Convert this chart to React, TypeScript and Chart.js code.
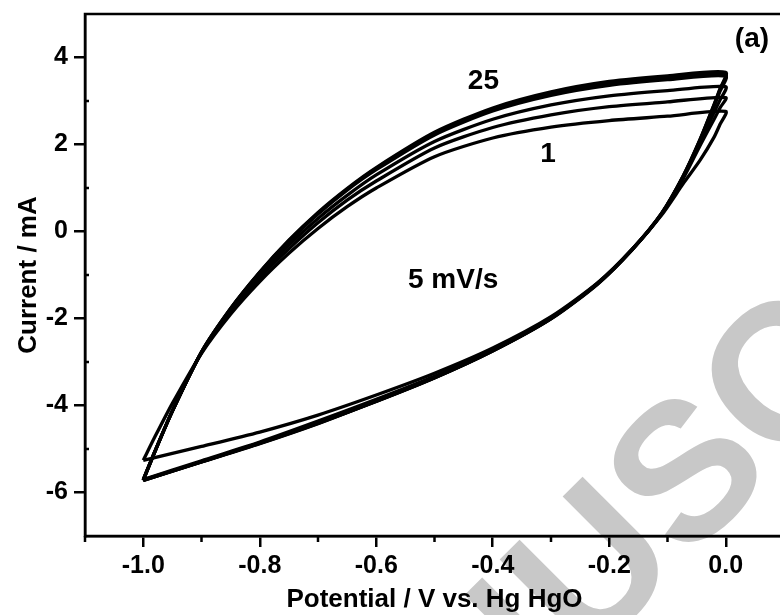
import React, { useEffect, useRef } from "react";
import { Chart, registerables } from "chart.js";

Chart.register(...registerables);

// ---- data ----
const CYCLE_NAMES = ["Cycle 1", "Cycle 5", "Cycle 10", "Cycle 15", "Cycle 20", "Cycle 25"];

// anodic (forward) sweep potentials, V
const X_UP = [-1.0, -0.98, -0.95, -0.9, -0.85, -0.8, -0.75, -0.7, -0.65, -0.6, -0.5, -0.4, -0.3, -0.2, -0.1, 0.0];
// cathodic (reverse) sweep potentials, V
const X_DN = [-0.01, -0.02, -0.044, -0.073, -0.11, -0.16, -0.22, -0.3, -0.4, -0.5, -0.6, -0.7, -0.8, -0.9, -1.0];

// currents, mA
const UP_C1 = [-5.26, -4.72, -3.95, -2.8, -1.9, -1.15, -0.5, 0.07, 0.57, 1.0, 1.72, 2.15, 2.4, 2.55, 2.65, 2.76];
const UP_C5 = [-5.7, -5.05, -4.12, -2.79, -1.85, -1.07, -0.4, 0.2, 0.72, 1.16, 1.92, 2.39, 2.68, 2.87, 2.98, 3.08];
const UP_C10 = [-5.71, -5.06, -4.13, -2.78, -1.82, -1.01, -0.31, 0.3, 0.83, 1.3, 2.07, 2.58, 2.91, 3.12, 3.24, 3.33];
const UP_C15 = [-5.72, -5.06, -4.13, -2.77, -1.78, -0.95, -0.23, 0.4, 0.95, 1.42, 2.22, 2.77, 3.13, 3.36, 3.49, 3.57];
const UP_C20 = [-5.72, -5.06, -4.13, -2.77, -1.77, -0.94, -0.21, 0.42, 0.97, 1.45, 2.26, 2.81, 3.18, 3.41, 3.54, 3.62];
const UP_C25 = [-5.72, -5.06, -4.13, -2.77, -1.77, -0.93, -0.2, 0.44, 0.99, 1.47, 2.28, 2.84, 3.21, 3.45, 3.58, 3.66];

const DN_C1 = [2.46, 2.17, 1.64, 1.1, 0.38, -0.4, -1.18, -1.96, -2.68, -3.26, -3.76, -4.22, -4.61, -4.94, -5.26];
const DN_C5 = [2.84, 2.58, 1.98, 1.22, 0.4, -0.4, -1.19, -1.98, -2.72, -3.33, -3.86, -4.36, -4.84, -5.27, -5.7];
const DN_C10 = [3.02, 2.74, 2.05, 1.25, 0.41, -0.41, -1.2, -2.0, -2.73, -3.35, -3.89, -4.39, -4.86, -5.29, -5.71];
const DN_C15 = [3.22, 2.88, 2.1, 1.27, 0.42, -0.4, -1.19, -1.99, -2.74, -3.36, -3.9, -4.4, -4.86, -5.29, -5.72];
const DN_C20 = [3.26, 2.91, 2.11, 1.27, 0.41, -0.41, -1.21, -2.01, -2.75, -3.37, -3.91, -4.41, -4.87, -5.3, -5.72];
const DN_C25 = [3.28, 2.92, 2.12, 1.28, 0.42, -0.4, -1.2, -2.0, -2.74, -3.36, -3.9, -4.42, -4.88, -5.3, -5.72];

const UP_ALL = [UP_C1, UP_C5, UP_C10, UP_C15, UP_C20, UP_C25];
const DN_ALL = [DN_C1, DN_C5, DN_C10, DN_C15, DN_C20, DN_C25];

// axes
const X_MIN = -1.1;
const X_MAX = 0.1;
const Y_MIN = -7;
const Y_MAX = 5;
const X_TICKS = [-1.0, -0.8, -0.6, -0.4, -0.2, 0.0];
const X_MINOR = [-1.1, -0.9, -0.7, -0.5, -0.3, -0.1, 0.1];
const Y_TICKS = [-6, -4, -2, 0, 2, 4];
const Y_MINOR = [-5, -3, -1, 1, 3];

const X_TITLE = "Potential / V vs. Hg HgO";
const Y_TITLE = "Current / mA";

// in-plot labels (data coordinates)
const LABEL_TEXT = ["25", "1", "5 mV/s", "(a)"];
const LABEL_X = [-0.416, -0.305, -0.468, 0.045];
const LABEL_Y = [3.45, 1.78, -1.13, 4.41];

const WATERMARK = "MANUSCRIPT";

const FONT = '"Liberation Sans", Arial, Helvetica, sans-serif';

const decorPlugin = {
  id: "decor",
  beforeDraw(chart: any) {
    const { ctx } = chart;
    ctx.save();
    ctx.fillStyle = "#ffffff";
    ctx.fillRect(0, 0, chart.width, chart.height);
    // watermark
    ctx.font = `bold 195px ${FONT}`;
    ctx.fillStyle = "#c8c8c8";
    ctx.translate(598, 575);
    ctx.rotate((-45 * Math.PI) / 180);
    const pre = ctx.measureText("MAN").width;
    const u = ctx.measureText("U").width;
    ctx.textBaseline = "middle";
    ctx.textAlign = "left";
    ctx.fillText(WATERMARK, -(pre + u / 2), 0);
    ctx.restore();
  },
  afterDraw(chart: any) {
    const { ctx, chartArea } = chart;
    const { left, right, top, bottom } = chartArea;
    const xs = chart.scales.x;
    const ys = chart.scales.y;
    ctx.save();
    ctx.strokeStyle = "#000";
    ctx.lineWidth = 2.5;
    ctx.strokeRect(left, top, right - left, bottom - top);
    ctx.beginPath();
    X_MINOR.forEach((v) => {
      const px = xs.getPixelForValue(v);
      ctx.moveTo(px, bottom);
      ctx.lineTo(px, bottom + 6);
    });
    Y_MINOR.forEach((v) => {
      const py = ys.getPixelForValue(v);
      ctx.moveTo(left, py);
      ctx.lineTo(left + 4, py);
    });
    ctx.stroke();
    ctx.fillStyle = "#000";
    ctx.font = `bold 28px ${FONT}`;
    ctx.textAlign = "center";
    ctx.textBaseline = "middle";
    LABEL_TEXT.forEach((t, i) => {
      ctx.fillText(t, xs.getPixelForValue(LABEL_X[i]), ys.getPixelForValue(LABEL_Y[i]));
    });
    ctx.restore();
  },
};

export default function App() {
  const ref = useRef<HTMLCanvasElement | null>(null);

  useEffect(() => {
    if (!ref.current) return;
    const datasets = CYCLE_NAMES.map((name, k) => ({
      label: name,
      data: X_UP.map((x, i) => ({ x, y: UP_ALL[k][i] })).concat(
        X_DN.map((x, i) => ({ x, y: DN_ALL[k][i] }))
      ),
      showLine: true,
      borderColor: "#000",
      borderWidth: 3.3,
      pointRadius: 0,
      tension: 0.25,
      fill: false,
    }));

    const chart = new Chart(ref.current, {
      type: "scatter",
      data: { datasets },
      plugins: [decorPlugin],
      options: {
        animation: false,
        responsive: false,
        events: [],
        layout: { padding: { top: 14, right: 16, left: 0, bottom: 0 } },
        plugins: { legend: { display: false }, tooltip: { enabled: false } },
        scales: {
          x: {
            type: "linear",
            min: X_MIN,
            max: X_MAX,
            afterBuildTicks: (s: any) => {
              s.ticks = X_TICKS.map((v) => ({ value: v }));
            },
            afterFit: (s: any) => {
              s.height = 79;
              s.paddingLeft = 0;
              s.paddingRight = 0;
            },
            ticks: {
              callback: (v: any) => Number(v).toFixed(1),
              font: { family: FONT, size: 25, weight: "bold" },
              color: "#000",
              padding: 4,
              maxRotation: 0,
              autoSkip: false,
            },
            grid: { drawOnChartArea: false, drawTicks: true, tickLength: 11, color: "#000", lineWidth: 2.5 },
            border: { display: true, color: "#000", width: 2.5 },
            title: {
              display: true,
              text: X_TITLE,
              color: "#000",
              font: { family: FONT, size: 26, weight: "bold" },
              padding: { top: 0, bottom: 0 },
            },
          },
          y: {
            type: "linear",
            min: Y_MIN,
            max: Y_MAX,
            afterBuildTicks: (s: any) => {
              s.ticks = Y_TICKS.map((v) => ({ value: v }));
            },
            afterFit: (s: any) => {
              s.width = 85;
              s.paddingTop = 0;
              s.paddingBottom = 0;
            },
            ticks: {
              callback: (v: any) => String(v),
              font: { family: FONT, size: 25, weight: "bold" },
              color: "#000",
              padding: 6,
              autoSkip: false,
            },
            grid: { drawOnChartArea: false, drawTicks: true, tickLength: 11, color: "#000", lineWidth: 2.5 },
            border: { display: true, color: "#000", width: 2.5 },
            title: {
              display: true,
              text: Y_TITLE,
              color: "#000",
              font: { family: FONT, size: 26, weight: "bold" },
              padding: { top: 13, bottom: 0 },
            },
          },
        },
      },
    });
    return () => chart.destroy();
  }, []);

  return (
    <div
      style={{
        position: "absolute",
        left: 0,
        top: 0,
        width: 780,
        height: 615,
        overflow: "hidden",
        background: "#fff",
      }}
    >
      <canvas ref={ref} width={800} height={615} style={{ display: "block", width: 800, height: 615 }} />
    </div>
  );
}
